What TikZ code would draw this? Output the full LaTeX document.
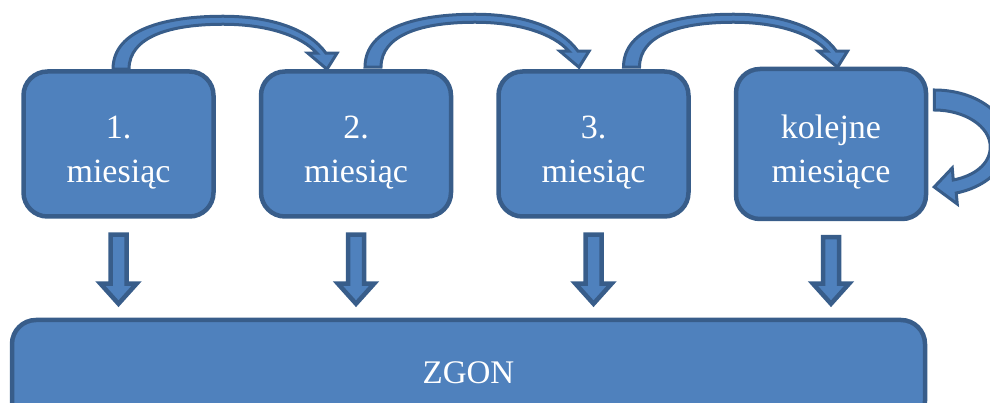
\documentclass[tikz,border=0pt]{standalone}
\usepackage{fontspec}
\setmainfont{Liberation Serif}
\usetikzlibrary{positioning,calc}
\definecolor{BoxFill}{HTML}{4F81BD}
\definecolor{BoxLine}{HTML}{385D8A}
\newcommand\twolines[2]{\rule{0pt}{39pt}#1\\#2}

\tikzset{
  month/.style={draw=BoxLine,fill=BoxFill,line width=4.5pt,rounded corners=24pt,
    minimum width=190pt,minimum height=145pt,align=center,text=white,
    font=\fontsize{34}{44}\selectfont},
  zgonbox/.style={month,minimum width=913pt,minimum height=105pt,
    font=\fontsize{33}{38}\selectfont},
  blockarrow/.style={draw=BoxLine,fill=BoxFill,line width=3.5pt,line join=miter},
  bendarrow/.pic={
    \filldraw[blockarrow,line width=3pt] (-8,0) .. controls (-8,40) and (45,53) .. (102,53)
      .. controls (150,53) and (188,40) .. (205,16) -- (216,16) -- (206,0) -- (187,16) -- (196,16)
      .. controls (180,34) and (145,45) .. (102,45) .. controls (50,45) and (8,33) .. (8,0) -- cycle;
  }
}

\begin{document}
\begin{tikzpicture}[x=1pt,y=1pt,node distance=43pt]
  \useasboundingbox (0,0) rectangle (990,403);
  \clip (0,0) rectangle (990,403);

  \node[month] (m1) at (118.5,259) {\twolines{1.}{miesiąc}};
  \node[month,right=of m1] (m2) {\twolines{2.}{miesiąc}};
  \node[month,right=of m2] (m3) {\twolines{3.}{miesiąc}};
  \node[month,right=of m3,minimum height=150pt] (m4) {\twolines{kolejne}{miesiące}};
  \node[zgonbox] (zgon) at (468.5,30.5) {ZGON};

  % arrows over the boxes
  \pic at ($(m1.north)+(2.5,0)$) {bendarrow};
  \pic at ($(m2.north)+(17,2)$) {bendarrow};
  \pic at ($(m3.north)+(38,2)$) {bendarrow};

  % loop back on the last box
  \filldraw[blockarrow,line width=3pt,shift={(m4.east)}] (6,54) .. controls (48,54) and (80,30) .. (80,2)
    .. controls (80,-26) and (54,-44) .. (28,-49) -- (29,-60) -- (6,-43) -- (24,-24) -- (25,-36)
    .. controls (46,-32) and (62,-20) .. (62,-3) .. controls (62,18) and (36,34) .. (6,34) -- cycle;

  % down to ZGON
  \foreach \m in {m1,m2,m3,m4} {
    \filldraw[blockarrow,line width=4.5pt] let \p1=($(\m.south)+(0,-16)$), \p2=($(\m.south |- zgon.north)+(0,14)$) in
      (\x1-8pt,\y1) -- (\x1+8pt,\y1) -- (\x1+8pt,\y2+20pt) -- (\x1+18pt,\y2+20pt)
      -- (\x2,\y2) -- (\x1-18pt,\y2+20pt) -- (\x1-8pt,\y2+20pt) -- cycle;
  }
\end{tikzpicture}
\end{document}
